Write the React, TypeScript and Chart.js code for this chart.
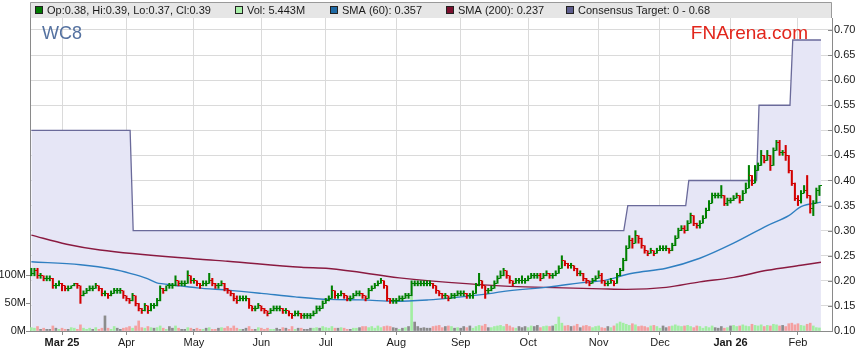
import React, { useEffect, useRef } from "react";
import { Chart, registerables } from "chart.js";

Chart.register(...registerables);

const FONT = "'Liberation Sans', Arial, Helvetica, sans-serif";

// Trading-day index 0 = 17 Feb 2025 (weekday axis)
const opens = [
  0.21,0.215,0.22,0.21,0.21,0.205,0.205,0.205,0.19,0.19,
  0.195,0.19,0.185,0.185,0.19,0.195,0.19,0.17,0.175,0.18,
  0.185,0.185,0.19,0.185,0.175,0.175,0.17,0.175,0.18,0.18,
  0.18,0.17,0.165,0.16,0.17,0.155,0.145,0.14,0.15,0.14,
  0.15,0.15,0.16,0.185,0.18,0.19,0.19,0.19,0.2,0.195,
  0.195,0.195,0.21,0.2,0.2,0.195,0.19,0.195,0.195,0.2,
  0.195,0.19,0.19,0.195,0.185,0.18,0.175,0.165,0.16,0.165,
  0.165,0.165,0.15,0.145,0.145,0.15,0.145,0.14,0.135,0.14,
  0.145,0.145,0.145,0.14,0.14,0.135,0.13,0.135,0.135,0.13,
  0.13,0.13,0.13,0.135,0.145,0.145,0.155,0.16,0.165,0.18,
  0.17,0.17,0.175,0.17,0.165,0.165,0.17,0.175,0.175,0.17,
  0.165,0.18,0.185,0.19,0.195,0.2,0.19,0.165,0.16,0.16,
  0.16,0.165,0.165,0.17,0.17,0.195,0.195,0.195,0.195,0.195,
  0.195,0.195,0.19,0.18,0.175,0.17,0.17,0.165,0.17,0.17,
  0.175,0.175,0.175,0.17,0.17,0.175,0.19,0.2,0.19,0.18,
  0.18,0.185,0.195,0.205,0.21,0.22,0.21,0.2,0.195,0.2,
  0.2,0.2,0.2,0.205,0.21,0.21,0.21,0.205,0.21,0.215,
  0.21,0.21,0.215,0.225,0.24,0.235,0.23,0.23,0.225,0.215,
  0.215,0.205,0.2,0.195,0.2,0.205,0.21,0.2,0.195,0.195,
  0.2,0.195,0.21,0.22,0.24,0.265,0.28,0.275,0.29,0.285,
  0.27,0.26,0.255,0.26,0.255,0.26,0.265,0.265,0.265,0.26,
  0.27,0.285,0.3,0.305,0.3,0.315,0.33,0.315,0.31,0.315,
  0.325,0.34,0.355,0.37,0.37,0.37,0.37,0.355,0.36,0.36,
  0.365,0.37,0.36,0.375,0.385,0.41,0.395,0.42,0.43,0.45,
  0.44,0.45,0.43,0.46,0.475,0.455,0.455,0.45,0.42,0.395,
  0.365,0.36,0.375,0.38,0.37,0.345,0.355,0.38,
];

const highs = [
  0.225,0.225,0.225,0.215,0.21,0.21,0.21,0.205,0.195,0.2,
  0.195,0.19,0.19,0.19,0.195,0.195,0.19,0.18,0.185,0.19,
  0.19,0.195,0.19,0.185,0.18,0.175,0.18,0.185,0.185,0.185,
  0.18,0.17,0.165,0.175,0.17,0.155,0.145,0.155,0.15,0.155,
  0.155,0.165,0.19,0.185,0.19,0.195,0.195,0.21,0.2,0.2,
  0.2,0.22,0.21,0.205,0.2,0.195,0.2,0.2,0.215,0.205,
  0.195,0.195,0.2,0.195,0.185,0.18,0.175,0.17,0.17,0.17,
  0.17,0.165,0.15,0.15,0.155,0.15,0.145,0.14,0.145,0.15,
  0.15,0.15,0.145,0.145,0.14,0.135,0.14,0.14,0.135,0.135,
  0.135,0.135,0.14,0.15,0.15,0.16,0.165,0.17,0.19,0.18,
  0.175,0.18,0.175,0.17,0.17,0.175,0.18,0.18,0.175,0.17,
  0.185,0.19,0.195,0.2,0.205,0.2,0.19,0.165,0.165,0.165,
  0.17,0.17,0.175,0.175,0.2,0.2,0.2,0.2,0.2,0.2,
  0.2,0.195,0.19,0.18,0.175,0.175,0.17,0.175,0.175,0.18,
  0.18,0.18,0.175,0.175,0.18,0.195,0.215,0.2,0.19,0.185,
  0.19,0.2,0.21,0.22,0.225,0.22,0.21,0.2,0.205,0.205,
  0.21,0.205,0.21,0.215,0.215,0.215,0.215,0.215,0.22,0.215,
  0.215,0.22,0.23,0.25,0.24,0.235,0.235,0.23,0.225,0.22,
  0.215,0.205,0.2,0.205,0.21,0.22,0.215,0.2,0.2,0.205,
  0.2,0.215,0.225,0.245,0.27,0.29,0.285,0.3,0.29,0.285,
  0.27,0.26,0.265,0.26,0.265,0.27,0.27,0.27,0.265,0.275,
  0.29,0.305,0.31,0.31,0.32,0.335,0.33,0.315,0.32,0.33,
  0.345,0.36,0.375,0.375,0.375,0.39,0.37,0.365,0.365,0.37,
  0.375,0.37,0.38,0.395,0.43,0.41,0.43,0.435,0.46,0.45,
  0.46,0.45,0.465,0.48,0.48,0.46,0.47,0.45,0.42,0.395,
  0.37,0.38,0.39,0.41,0.37,0.36,0.385,0.39,
];

const lows = [
  0.21,0.21,0.205,0.205,0.2,0.2,0.2,0.185,0.185,0.19,
  0.18,0.18,0.18,0.185,0.19,0.185,0.155,0.17,0.175,0.18,
  0.18,0.185,0.18,0.17,0.17,0.165,0.17,0.175,0.175,0.175,
  0.165,0.16,0.155,0.16,0.15,0.14,0.135,0.14,0.135,0.14,
  0.145,0.15,0.16,0.175,0.18,0.185,0.185,0.19,0.19,0.19,
  0.19,0.195,0.195,0.195,0.19,0.185,0.19,0.19,0.195,0.19,
  0.185,0.185,0.19,0.18,0.175,0.17,0.16,0.155,0.16,0.16,
  0.16,0.145,0.14,0.14,0.145,0.14,0.135,0.13,0.135,0.14,
  0.14,0.14,0.135,0.135,0.13,0.125,0.13,0.13,0.125,0.125,
  0.125,0.125,0.13,0.135,0.14,0.145,0.155,0.16,0.165,0.165,
  0.165,0.17,0.165,0.16,0.16,0.165,0.17,0.17,0.165,0.16,
  0.165,0.18,0.185,0.19,0.195,0.185,0.16,0.155,0.155,0.155,
  0.16,0.16,0.165,0.165,0.17,0.19,0.19,0.19,0.19,0.19,
  0.19,0.185,0.175,0.17,0.165,0.165,0.16,0.165,0.165,0.17,
  0.17,0.17,0.165,0.165,0.165,0.175,0.19,0.185,0.165,0.175,
  0.18,0.185,0.195,0.205,0.21,0.205,0.195,0.19,0.195,0.195,
  0.195,0.195,0.2,0.205,0.205,0.205,0.2,0.205,0.21,0.205,
  0.205,0.21,0.215,0.225,0.23,0.225,0.225,0.22,0.21,0.21,
  0.2,0.195,0.19,0.195,0.2,0.205,0.195,0.19,0.19,0.195,
  0.19,0.195,0.21,0.22,0.24,0.265,0.265,0.275,0.275,0.265,
  0.255,0.25,0.255,0.25,0.255,0.26,0.26,0.26,0.255,0.26,
  0.27,0.285,0.3,0.295,0.3,0.315,0.31,0.305,0.305,0.315,
  0.325,0.34,0.355,0.365,0.365,0.365,0.35,0.35,0.355,0.36,
  0.365,0.355,0.36,0.375,0.385,0.39,0.395,0.42,0.43,0.435,
  0.44,0.42,0.43,0.46,0.45,0.45,0.44,0.415,0.39,0.36,
  0.35,0.355,0.375,0.365,0.335,0.33,0.355,0.37,
];

const closes = [
  0.215,0.22,0.21,0.21,0.205,0.205,0.205,0.19,0.19,0.195,
  0.19,0.185,0.185,0.19,0.195,0.19,0.17,0.175,0.18,0.185,
  0.185,0.19,0.185,0.175,0.175,0.17,0.175,0.18,0.18,0.18,
  0.17,0.165,0.16,0.17,0.155,0.145,0.14,0.15,0.14,0.15,
  0.15,0.16,0.185,0.18,0.19,0.19,0.19,0.2,0.195,0.195,
  0.195,0.21,0.2,0.2,0.195,0.19,0.195,0.195,0.2,0.195,
  0.19,0.19,0.195,0.185,0.18,0.175,0.165,0.16,0.165,0.165,
  0.165,0.15,0.145,0.145,0.15,0.145,0.14,0.135,0.14,0.145,
  0.145,0.145,0.14,0.14,0.135,0.13,0.135,0.135,0.13,0.13,
  0.13,0.13,0.135,0.145,0.145,0.155,0.16,0.165,0.18,0.17,
  0.17,0.175,0.17,0.165,0.165,0.17,0.175,0.175,0.17,0.165,
  0.18,0.185,0.19,0.195,0.2,0.19,0.165,0.16,0.16,0.16,
  0.165,0.165,0.17,0.17,0.195,0.195,0.195,0.195,0.195,0.195,
  0.195,0.19,0.18,0.175,0.17,0.17,0.165,0.17,0.17,0.175,
  0.175,0.175,0.17,0.17,0.175,0.19,0.2,0.19,0.18,0.18,
  0.185,0.195,0.205,0.21,0.22,0.21,0.2,0.195,0.2,0.2,
  0.2,0.2,0.205,0.21,0.21,0.21,0.205,0.21,0.215,0.21,
  0.21,0.215,0.225,0.24,0.235,0.23,0.23,0.225,0.215,0.215,
  0.205,0.2,0.195,0.2,0.205,0.21,0.2,0.195,0.195,0.2,
  0.195,0.21,0.22,0.24,0.265,0.28,0.275,0.29,0.285,0.27,
  0.26,0.255,0.26,0.255,0.26,0.265,0.265,0.265,0.26,0.27,
  0.285,0.3,0.305,0.3,0.315,0.33,0.315,0.31,0.315,0.325,
  0.34,0.355,0.37,0.37,0.37,0.37,0.355,0.36,0.36,0.365,
  0.37,0.36,0.375,0.385,0.41,0.395,0.42,0.43,0.45,0.44,
  0.45,0.43,0.46,0.475,0.455,0.455,0.45,0.42,0.395,0.365,
  0.36,0.375,0.38,0.37,0.345,0.355,0.38,0.39,
];

// Volume in millions of shares
const volumesM = [
  6,5,8,3,5,3,3,9,5,3,
  5,3,3,6,5,3,11,5,3,5,
  3,6,3,5,27,5,3,8,5,3,
  5,6,8,5,9,18,6,5,8,6,
  5,6,9,5,3,8,5,9,5,3,
  3,6,5,3,5,3,3,5,6,3,
  3,5,6,5,8,5,9,5,3,3,
  5,8,3,3,6,5,3,5,3,3,
  5,3,6,5,3,8,3,5,5,3,
  3,5,5,6,5,8,6,5,8,5,
  5,6,5,3,3,5,5,6,8,8,
  6,8,5,9,6,8,9,8,6,5,
  3,5,6,8,61,16,8,5,6,5,
  5,8,9,10,6,8,9,8,5,6,
  5,8,6,9,5,8,10,9,12,6,
  6,8,9,10,8,12,9,6,5,8,
  6,8,6,9,8,10,6,8,9,8,
  9,12,25,14,9,10,8,9,12,6,
  9,10,8,6,8,9,6,5,8,6,
  9,13,16,14,12,10,13,11,8,9,
  8,6,9,10,8,5,9,6,8,9,
  11,9,8,9,10,8,6,9,8,5,
  8,6,9,6,5,8,5,6,9,10,
  8,9,11,9,8,12,10,9,11,8,
  10,9,12,11,9,10,8,13,14,11,
  13,10,9,12,14,9,6,5.443,
];

const sma60Idx = [0,16,26.7,32.2,37.6,40.9,43,48.5,54,64.8,75,86,97,108,118.6,129.5,137,150,153,169,182,186,196,207,218,229,240,247,251,257.5];
const sma60Val = [0.238,0.232,0.223,0.215,0.205,0.196,0.194,0.19,0.186,0.181,0.175,0.168,0.163,0.162,0.159,0.162,0.166,0.175,0.178,0.188,0.198,0.2,0.215,0.225,0.245,0.275,0.31,0.33,0.348,0.357];

const sma200Idx = [0,11.5,22.4,55,64,88,97,120,130,153,161,186,194,207,218,229,240,251,257.5];
const sma200Val = [0.291,0.273,0.2615,0.243,0.239,0.227,0.2245,0.206,0.2,0.19,0.188,0.184,0.183,0.187,0.198,0.207,0.221,0.231,0.237];

const targetIdx = [0,32.2,33.2,193.2,194.5,213.4,214.4,236.5,237.3,247.4,248.3,257.5];
const targetVal = [0.5,0.5,0.3,0.3,0.35,0.35,0.4,0.4,0.55,0.55,0.68,0.68];

const monthTickIdx = [10,31,53,75,96,119,140,162,185,205,228,250];
const monthTickLabels = ["Mar 25","Apr","May","Jun","Jul","Aug","Sep","Oct","Nov","Dec","Jan 26","Feb"];

const priceTicks = [0.1,0.15,0.2,0.25,0.3,0.35,0.4,0.45,0.5,0.55,0.6,0.65,0.7];
const volumeTicksM = [0,50,100];

const UP = "#008000";
const DOWN = "#d20000";

function tickImage(color: string, side: "left" | "right") {
  const c = document.createElement("canvas");
  c.width = 5;
  c.height = 1;
  const g = c.getContext("2d")!;
  g.fillStyle = color;
  g.fillRect(side === "left" ? 0 : 3, 0, 2, 1);
  return c;
}

export default function App() {
  const ref = useRef<HTMLCanvasElement>(null);

  useEffect(() => {
    document.body.style.margin = "0";
    const canvas = ref.current!;
    const up = (i: number) => closes[i] >= opens[i];
    const upL = tickImage(UP, "left");
    const upR = tickImage(UP, "right");
    const dnL = tickImage(DOWN, "left");
    const dnR = tickImage(DOWN, "right");

    const overlay = {
      id: "overlay",
      afterDraw(chart: any) {
        const ctx = chart.ctx as CanvasRenderingContext2D;
        const area = chart.chartArea;
        const yP = chart.scales.yP;
        ctx.save();
        ctx.strokeStyle = "#8a8a8a";
        ctx.lineWidth = 1;
        for (const v of priceTicks) {
          const y = Math.round(yP.getPixelForValue(v)) + 0.5;
          ctx.beginPath();
          ctx.moveTo(area.right - 4, y);
          ctx.lineTo(area.right, y);
          ctx.stroke();
        }
        const L = area.left, R = area.right;
        ctx.fillStyle = "#e6e6e6";
        ctx.fillRect(L, 2, R - L, 16);
        ctx.strokeStyle = "#9a9a9a";
        ctx.beginPath();
        ctx.moveTo(L + 0.5, area.top);
        ctx.lineTo(L + 0.5, 2.5);
        ctx.lineTo(R - 0.5, 2.5);
        ctx.lineTo(R - 0.5, area.top);
        ctx.stroke();

        const last = closes.length - 1;
        const items = [
          { sx: 35, color: "#007a00", text: `Op:${opens[last].toFixed(2)}, Hi:${highs[last].toFixed(2)}, Lo:${lows[last].toFixed(2)}, Cl:${closes[last].toFixed(2)}` },
          { sx: 235, color: "#a8f0a8", text: `Vol: ${volumesM[last].toFixed(3)}M` },
          { sx: 330, color: "#1f6aa5", text: `SMA (60): ${sma60Val[sma60Val.length - 1].toFixed(3)}` },
          { sx: 446, color: "#7b0f2e", text: `SMA (200): ${sma200Val[sma200Val.length - 1].toFixed(3)}` },
          { sx: 566, color: "#5e5e8e", text: `Consensus Target: 0 - ${targetVal[targetVal.length - 1].toFixed(2)}` },
        ];
        ctx.font = `11px ${FONT}`;
        ctx.textBaseline = "middle";
        ctx.textAlign = "left";
        for (const it of items) {
          ctx.fillStyle = it.color;
          ctx.fillRect(it.sx, 6, 8, 8);
          ctx.strokeStyle = "#222";
          ctx.strokeRect(it.sx + 0.5, 6.5, 7, 7);
          ctx.fillStyle = "#1a1a1a";
          ctx.fillText(it.text, it.sx + 12, 10.5);
        }

        ctx.textBaseline = "alphabetic";
        ctx.font = `18px ${FONT}`;
        ctx.fillStyle = "#5471a0";
        ctx.fillText("WC8", 42, 39);
        ctx.font = `19px ${FONT}`;
        ctx.fillStyle = "#e2261c";
        ctx.textAlign = "right";
        ctx.fillText("FNArena.com", 808, 39);
        ctx.restore();
      },
    };

    const chart = new Chart(canvas, {
      type: "line",
      data: {
        datasets: [
          {
            type: "line",
            label: "Consensus Target",
            yAxisID: "yP",
            data: targetIdx.map((x, i) => ({ x, y: targetVal[i] })),
            borderColor: "#6a6a9a",
            borderWidth: 1.3,
            backgroundColor: "#e6e6f6",
            fill: "start",
            pointRadius: 0,
            tension: 0,
            order: 10,
          },
          {
            type: "bar",
            label: "Vol",
            yAxisID: "yV",
            data: volumesM.map((v, i) => ({ x: i, y: v * 1e6 })),
            backgroundColor: volumesM.map((_, i) =>
              closes[i] > opens[i] ? "#a2eea2" : closes[i] < opens[i] ? "#f4a0a0" : "#8c8c8c"
            ),
            barThickness: 2,
            grouped: false,
            borderWidth: 0,
            order: 9,
          } as any,
          {
            type: "line",
            label: "SMA (200)",
            yAxisID: "yP",
            data: sma200Idx.map((x, i) => ({ x, y: sma200Val[i] })),
            borderColor: "#8a1a40",
            borderWidth: 1.4,
            pointRadius: 0,
            fill: false,
            cubicInterpolationMode: "monotone",
            order: 5,
          },
          {
            type: "line",
            label: "SMA (60)",
            yAxisID: "yP",
            data: sma60Idx.map((x, i) => ({ x, y: sma60Val[i] })),
            borderColor: "#2f7fc1",
            borderWidth: 1.4,
            pointRadius: 0,
            fill: false,
            cubicInterpolationMode: "monotone",
            order: 4,
          },
          {
            type: "bar",
            label: "HL",
            yAxisID: "yP",
            data: closes.map((_, i) => ({ x: i, y: [lows[i], highs[i]] })),
            backgroundColor: closes.map((_, i) => (up(i) ? UP : DOWN)),
            barThickness: 1.4,
            grouped: false,
            borderWidth: 0,
            order: 2,
          } as any,
          {
            type: "line",
            label: "Open",
            yAxisID: "yP",
            data: opens.map((v, i) => ({ x: i, y: v })),
            showLine: false,
            pointRadius: 2,
            pointStyle: (ctx: any) => (up(ctx.dataIndex) ? upL : dnL),
            order: 1,
          } as any,
          {
            type: "line",
            label: "Close",
            yAxisID: "yP",
            data: closes.map((v, i) => ({ x: i, y: v })),
            showLine: false,
            pointRadius: 2,
            pointStyle: (ctx: any) => (up(ctx.dataIndex) ? upR : dnR),
            order: 1,
          } as any,
        ],
      },
      options: {
        responsive: false,
        maintainAspectRatio: false,
        animation: false,
        devicePixelRatio: 1,
        events: [],
        layout: { padding: { top: 18, left: 0, right: 0, bottom: 0 } },
        plugins: { legend: { display: false }, tooltip: { enabled: false } },
        scales: {
          x: {
            type: "linear",
            offset: false,
            min: -0.45,
            max: 261.1,
            afterBuildTicks: (s: any) => {
              s.ticks = monthTickIdx.map((v) => ({ value: v }));
            },
            afterFit: (s: any) => {
              s.height = 32;
            },
            ticks: {
              autoSkip: false,
              maxRotation: 0,
              padding: 1,
              color: "#1a1a1a",
              callback: (v: any) => {
                const k = monthTickIdx.indexOf(Number(v));
                return k >= 0 ? monthTickLabels[k] : "";
              },
              font: (ctx: any) => {
                const lbl = ctx.tick ? String(ctx.tick.label) : "";
                return { family: FONT, size: 11, weight: /\d/.test(lbl) ? "bold" : "normal" };
              },
            },
            grid: { offset: false, color: "#dadada", tickColor: "#8a8a8a", tickLength: 4, drawTicks: true },
            border: { color: "#8a8a8a" },
          },
          yP: {
            type: "linear",
            position: "right",
            min: 0.1,
            max: 0.7239,
            afterBuildTicks: (s: any) => {
              s.ticks = priceTicks.map((v) => ({ value: v }));
            },
            afterFit: (s: any) => {
              s.width = 27;
            },
            ticks: {
              padding: 2,
              color: "#1a1a1a",
              font: { family: FONT, size: 11 },
              callback: (v: any) => Number(v).toFixed(2),
            },
            grid: { color: "#dadada", drawTicks: false },
            border: { color: "#8a8a8a" },
          },
          yV: {
            type: "linear",
            position: "left",
            min: 0,
            max: 559e6,
            afterBuildTicks: (s: any) => {
              s.ticks = volumeTicksM.map((v) => ({ value: v * 1e6 }));
            },
            afterFit: (s: any) => {
              s.width = 30;
            },
            ticks: {
              padding: 0,
              color: "#1a1a1a",
              font: { family: FONT, size: 11 },
              callback: (v: any) => `${Math.round(Number(v) / 1e6)}M`,
            },
            grid: { drawOnChartArea: false, tickColor: "#8a8a8a", tickLength: 4 },
            border: { color: "#8a8a8a" },
          },
        },
      },
      plugins: [overlay],
    } as any);

    return () => chart.destroy();
  }, []);

  return (
    <div style={{ width: 859, height: 363 }}>
      <canvas ref={ref} width={859} height={363} style={{ display: "block", width: 859, height: 363 }} />
    </div>
  );
}
